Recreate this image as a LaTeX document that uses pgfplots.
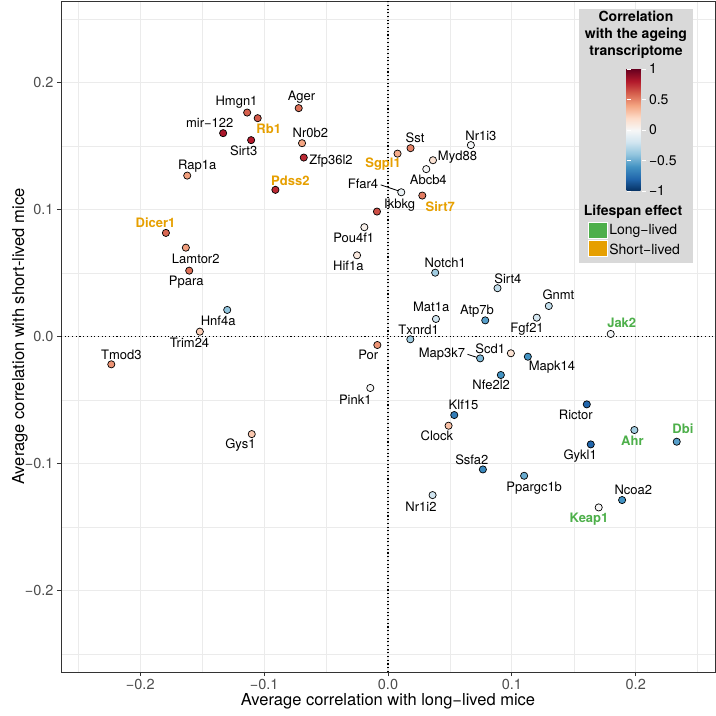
\documentclass[border=0pt]{standalone}
\usepackage{fontspec}
\setmainfont{TeX Gyre Heros}
\usepackage{pgfplots}
\pgfplotsset{compat=1.18}

\definecolor{grey20}{HTML}{333333}
\definecolor{grey30}{HTML}{4D4D4D}
\definecolor{gridgrey}{HTML}{EBEBEB}
\definecolor{legbg}{HTML}{D9D9D9}
\definecolor{longgreen}{HTML}{4DAF4A}
\definecolor{shortorange}{HTML}{E69F00}

\newcommand{\lblfont}{\fontsize{13bp}{13bp}\selectfont}
\newcommand{\titlefont}{\fontsize{16.5bp}{16.5bp}\selectfont}

% gene, x = long-lived, y = short-lived, c = correlation with ageing transcriptome
\pgfplotstableread{
name x y c
Hmgn1 -0.1137 0.1762 0.60
Rb1 -0.1052 0.1718 0.62
mir122 -0.1331 0.1600 0.82
Sirt3 -0.1105 0.1545 0.80
Ager -0.0721 0.1797 0.55
Nr0b2 -0.0694 0.1521 0.40
Zfp36l2 -0.0680 0.1408 0.75
Rap1a -0.1621 0.1266 0.42
Pdss2 -0.0909 0.1154 0.75
Dicer1 -0.1793 0.0815 0.58
Lamtor2 -0.1632 0.0699 0.42
Ppara -0.1605 0.0518 0.55
Hnf4a -0.1298 0.0209 -0.40
Trim24 -0.1519 0.0038 0.25
Tmod3 -0.2234 -0.0219 0.45
Gys1 -0.1100 -0.0768 0.27
Sst 0.0182 0.1482 0.50
Sgpl1 0.0077 0.1439 0.38
Nr1i3 0.0669 0.1506 -0.02
Myd88 0.0363 0.1387 0.15
Abcb4 0.0309 0.1317 0.00
Ffar4 0.0107 0.1135 -0.06
Sirt7 0.0277 0.1109 0.52
Ikbkg -0.0089 0.0983 0.65
Pou4f1 -0.0191 0.0860 0.05
Hif1a -0.0250 0.0639 0.10
Notch1 0.0381 0.0502 -0.35
Sirt4 0.0884 0.0380 -0.25
Gnmt 0.1298 0.0240 -0.25
Mat1a 0.0387 0.0138 -0.20
Atp7b 0.0785 0.0127 -0.55
Fgf21 0.1201 0.0148 -0.18
Txnrd1 0.0180 -0.0022 -0.35
Jak2 0.1798 0.0020 -0.03
Map3k7 0.0744 -0.0172 -0.45
Scd1 0.0992 -0.0132 0.15
Mapk14 0.1129 -0.0159 -0.60
Nfe2l2 0.0911 -0.0303 -0.60
Klf15 0.0535 -0.0618 -0.70
Clock 0.0489 -0.0702 0.30
Rictor 0.1605 -0.0534 -0.80
Ahr 0.1989 -0.0736 -0.35
Gykl1 0.1637 -0.0849 -0.80
Dbi 0.2331 -0.0828 -0.55
Ssfa2 0.0766 -0.1046 -0.65
Ppargc1b 0.1099 -0.1096 -0.50
Nr1i2 0.0360 -0.1248 -0.20
Ncoa2 0.1890 -0.1287 -0.60
Keap1 0.1701 -0.1345 0.00
Por -0.0086 -0.0067 0.45
Pink1 -0.0143 -0.0405 0.00
}\genes

% label positions (centre of text)
\pgfplotstableread{
x y lab
-0.1223 0.1841 Hmgn1
-0.1439 0.1679 mir−122
-0.1165 0.1461 Sirt3
-0.0699 0.1886 Ager
-0.1540 0.1343 Rap1a
-0.1552 0.0610 Lamtor2
-0.1629 0.0431 Ppara
-0.1371 0.0124 Hnf4a
-0.1602 -0.0046 Trim24
-0.2153 -0.0146 Tmod3
-0.1191 -0.0852 Gys1
-0.0627 0.1600 Nr0b2
-0.0460 0.1382 Zfp36l2
0.0218 0.1565 Sst
0.0750 0.1581 Nr1i3
0.0561 0.1411 Myd88
0.0325 0.1230 Abcb4
-0.0202 0.1198 Ffar4
0.0094 0.1033 Ikbkg
-0.0277 0.0778 Pou4f1
-0.0320 0.0555 Hif1a
0.0462 0.0581 Notch1
0.0968 0.0453 Sirt4
0.1376 0.0327 Gnmt
0.0349 0.0235 Mat1a
0.0718 0.0203 Atp7b
0.1123 0.0059 Fgf21
0.0247 0.0051 Txnrd1
0.0435 -0.0143 Map3k7
0.0825 -0.0096 Scd1
0.1323 -0.0240 Mapk14
0.0833 -0.0382 Nfe2l2
0.0610 -0.0539 Klf15
0.0395 -0.0783 Clock
0.1516 -0.0620 Rictor
0.1551 -0.0939 Gykl1
0.0677 -0.0967 Ssfa2
0.1180 -0.1193 Ppargc1b
0.0266 -0.1340 Nr1i2
0.1981 -0.1209 Ncoa2
-0.0159 -0.0146 Por
-0.0264 -0.0500 Pink1
}\blacklabels

\pgfplotstableread{
x y lab
-0.0963 0.1631 Rb1
-0.0788 0.1224 Pdss2
-0.1877 0.0896 Dicer1
-0.0040 0.1356 Sgpl1
0.0422 0.1022 Sirt7
}\shortlabels

\pgfplotstableread{
x y lab
0.1887 0.0104 Jak2
0.1973 -0.0820 Ahr
0.2381 -0.0728 Dbi
0.1623 -0.1435 Keap1
}\longlabels

\begin{document}
\begin{tikzpicture}
\begin{axis}[
  name=ax, scale only axis, width=654bp, height=671bp,
  xmin=-0.264, xmax=0.264, ymin=-0.264, ymax=0.264,
  xtick={-0.2,-0.1,0,0.1,0.2}, xticklabels={−0.2,−0.1,0.0,0.1,0.2},
  ytick={-0.2,-0.1,0,0.1,0.2}, yticklabels={−0.2,−0.1,0.0,0.1,0.2},
  minor xtick={-0.25,-0.15,-0.05,0.05,0.15,0.25},
  minor ytick={-0.25,-0.15,-0.05,0.05,0.15,0.25},
  grid=both,
  major grid style={color=gridgrey, line width=1.1bp},
  minor grid style={color=gridgrey, line width=0.55bp},
  minor tick length=0pt, major tick length=4bp, tick align=outside,
  xtick pos=bottom, ytick pos=left,
  tick style={grey20, line width=0.9bp},
  axis line style={grey20, line width=0.9bp},
  ticklabel style={font=\fontsize{14.5bp}{14.5bp}\selectfont, text=grey30},
  xlabel={Average correlation with long−lived mice},
  ylabel={Average correlation with short-lived mice},
  every axis x label/.style={at={(rel axis cs:0.5,0)}, yshift=-29bp, anchor=center, font=\titlefont},
  every axis y label/.style={at={(rel axis cs:0,0.5)}, xshift=-41bp, rotate=90, anchor=center, font=\titlefont},
  colormap={rdbu}{rgb255=(5,48,97) rgb255=(33,102,172) rgb255=(67,147,195)
    rgb255=(146,197,222) rgb255=(209,229,240) rgb255=(247,247,247)
    rgb255=(253,219,199) rgb255=(244,165,130) rgb255=(214,96,77)
    rgb255=(178,24,43) rgb255=(103,0,31)},
  point meta min=-1, point meta max=1,
  colorbar,
  colorbar style={
    at={(parent axis.north east)}, anchor=north west,
    xshift=-97bp, yshift=-68bp,
    scale only axis, width=19bp, height=122bp,
    ytick={-1,-0.5,0,0.5,1}, yticklabels={−1,−0.5,0,0.5,1},
    yticklabel pos=right,
    yticklabel style={font=\fontsize{14bp}{14bp}\selectfont, text=black},
    major tick length=4bp, tick align=inside,
    tick style={white, line width=0.9bp},
    axis line style={draw=none},
  },
]
% legend background
\fill[legbg] (axis cs:0.154,0.0579) rectangle (axis cs:0.246,0.2579);

% reference lines
\addplot[black, line width=1.1bp, dash pattern=on 1.1bp off 2.6bp] coordinates {(0,-0.264) (0,0.264)};
\addplot[black, line width=1.1bp, dash pattern=on 1.1bp off 2.6bp] coordinates {(-0.264,0) (0.264,0)};

% label leader segments
\addplot[black, line width=0.8bp] coordinates {(-0.0059,0.1193) (0.0085,0.1146)};
\addplot[black, line width=0.8bp] coordinates {(0.0642,-0.0140) (0.0720,-0.0165)};

% genes
\addplot[scatter, only marks, mark=*, mark size=3.6bp, point meta=explicit,
  scatter/use mapped color={draw=black, fill=mapped color},
  mark options={line width=0.7bp}] table[x=x, y=y, meta=c] {\genes};

% labels
\addplot[only marks, mark=none, nodes near coords, point meta=explicit symbolic,
  every node near coord/.append style={anchor=center, inner sep=0pt, font=\lblfont, text=black}]
  table[x=x, y=y, meta=lab] {\blacklabels};
\addplot[only marks, mark=none, nodes near coords, point meta=explicit symbolic,
  every node near coord/.append style={anchor=center, inner sep=0pt, font=\lblfont\bfseries, text=shortorange}]
  table[x=x, y=y, meta=lab] {\shortlabels};
\addplot[only marks, mark=none, nodes near coords, point meta=explicit symbolic,
  every node near coord/.append style={anchor=center, inner sep=0pt, font=\lblfont\bfseries, text=longgreen}]
  table[x=x, y=y, meta=lab] {\longlabels};

% legend text and keys
\node[font=\fontsize{14bp}{17.3bp}\selectfont\bfseries, align=center] at (axis cs:0.2002,0.2374)
  {Correlation\\with the ageing\\transcriptome};
\node[font=\fontsize{14bp}{14bp}\selectfont\bfseries] at (axis cs:0.1978,0.0980) {Lifespan effect};
\fill[longgreen, draw=white, line width=0.5bp] (axis cs:0.1620,0.0770) rectangle (axis cs:0.1769,0.0896);
\fill[shortorange, draw=white, line width=0.5bp] (axis cs:0.1620,0.0634) rectangle (axis cs:0.1769,0.0760);
\node[font=\fontsize{14bp}{14bp}\selectfont, anchor=west, inner sep=0pt] at (axis cs:0.1785,0.0827) {Long−lived};
\node[font=\fontsize{14bp}{14bp}\selectfont, anchor=west, inner sep=0pt] at (axis cs:0.1785,0.0689) {Short−lived};
\end{axis}
\pgfresetboundingbox
\path[use as bounding box] ([shift={(-61bp,-44bp)}]ax.south west) rectangle ([shift={(1bp,1bp)}]ax.north east);
\end{tikzpicture}
\end{document}
